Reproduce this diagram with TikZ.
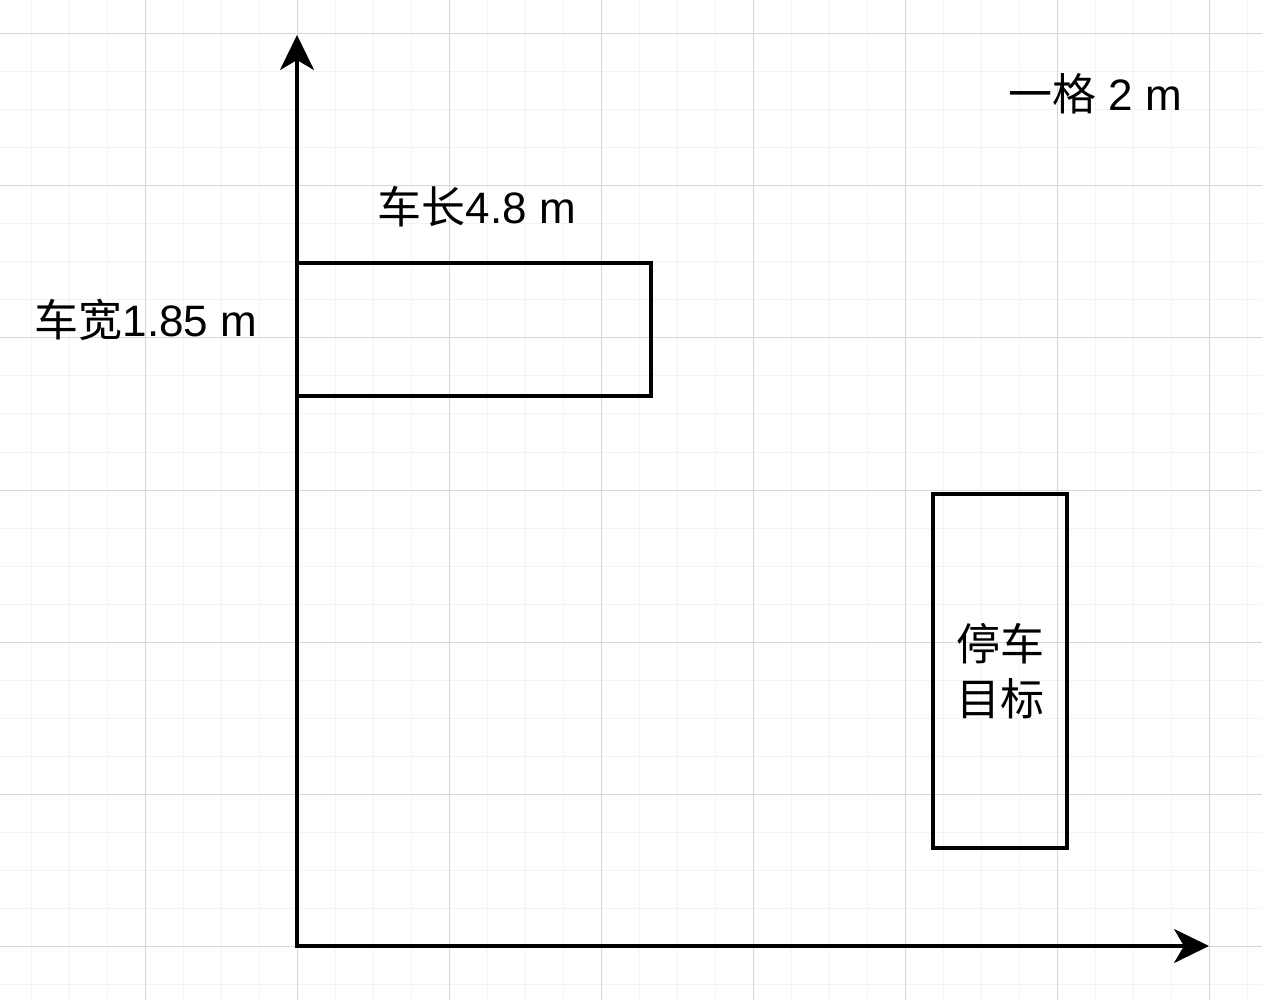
\documentclass[tikz,border=0pt]{standalone}
\usepackage{fontspec}
\setmainfont{Liberation Sans}
\newfontfamily\cjk{Noto Sans CJK SC}
\usetikzlibrary{arrows.meta}
\definecolor{minorgrid}{HTML}{F3F3F3}
\definecolor{majorgrid}{HTML}{D6D6D6}
\begin{document}
\begin{tikzpicture}[x=1pt,y=-1pt,
  minorline/.style={draw=minorgrid,line width=1pt},
  majorline/.style={draw=majorgrid,line width=1pt},
  box/.style={draw=black,line width=3.3pt,inner sep=0pt,outer sep=0pt,fill=none},
  axisline/.style={draw=black,line width=3.3pt,-{Stealth[length=35pt,width=34pt,inset=10pt]}},
  lbl/.style={inner sep=0pt,font=\fontsize{44}{55}\selectfont}
]
\useasboundingbox (0,0) rectangle (1262,1000);
\fill[white] (0,0) rectangle (1262,1000);
% grid
\foreach \i in {0,...,34} {
  \draw[minorline] ({-7+38*\i},0) -- ({-7+38*\i},1000);
}
\foreach \i in {0,...,27} {
  \draw[minorline] (0,{-4+38*\i}) -- (1262,{-4+38*\i});
}
\foreach \i in {0,...,8} {
  \draw[majorline] ({-7+152*\i},0) -- ({-7+152*\i},1000);
}
\foreach \i in {0,...,6} {
  \draw[majorline] (0,{34+152*\i}) -- (1262,{34+152*\i});
}
% axes
\coordinate (origin) at (297,946);
\coordinate (ytip) at (297,35);
\coordinate (xtip) at (1209,946);
\draw[axisline] ([yshift=-1.6pt]origin) -- (ytip);
\draw[axisline] ([xshift=-1.6pt]origin) -- (xtip);
% car
\node[box,minimum width=354pt,minimum height=133pt] (car) at (474,329.5) {};
% target
\node[box,minimum width=134pt,minimum height=354pt,align=center,
  font=\fontsize{44}{55}\selectfont\cjk] (target) at (1000,671) {停车\\目标};
% labels
\node[lbl] (lenlbl) at (477,207) {{\cjk 车长}4.8 m};
\node[lbl] (widlbl) at (146,320) {{\cjk 车宽}1.85 m};
\node[lbl] (scalelbl) at (1095,94) {{\cjk 一格} 2 m};
\end{tikzpicture}
\end{document}
